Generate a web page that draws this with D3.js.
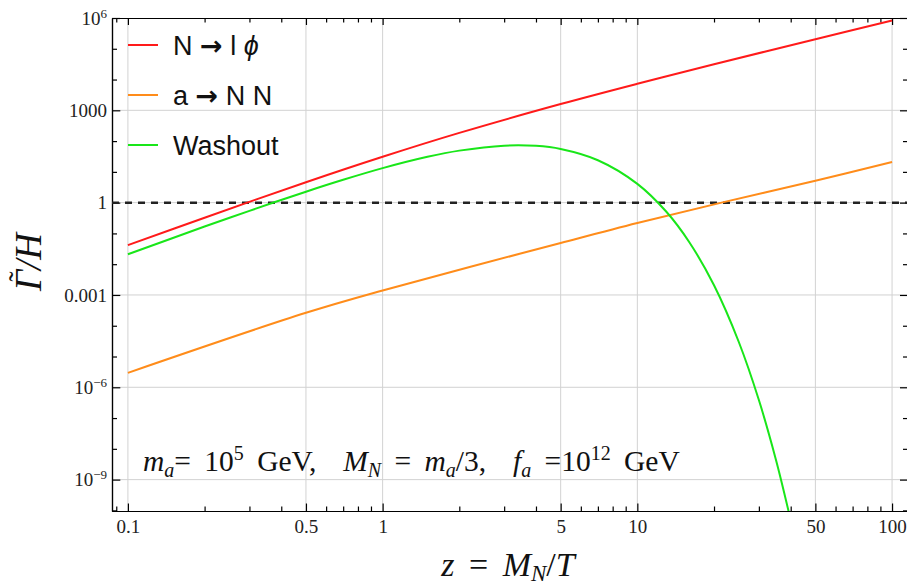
<!DOCTYPE html>
<html lang="en">
<head>
<meta charset="UTF-8">
<title>Rates over Hubble</title>
<script src="https://d3js.org/d3.v7.min.js"></script>
<style>
    body { margin: 0; background: #fff; }
    .axis path, .axis line { stroke: #000; stroke-width: 1.2; }
    .axis text { font-family: "Liberation Serif", "Times New Roman", serif; font-size: 19px; fill: #222; }
    .grid line { stroke: #d2d2d2; stroke-width: 1; }
    .curve { fill: none; stroke-width: 2; }
    .legend text { font-family: "Liberation Sans", Arial, sans-serif; font-size: 27px; fill: #111; }
    .serif { font-family: "Liberation Serif", "Times New Roman", serif; fill: #111; }
</style>
</head>
<body>
<div id="chart"></div>
<script>
// values (z = M_N/T, rate = Gamma/H)
const zDecay = [0.1, 0.2, 0.5, 1, 2, 5, 10, 20, 50, 100];
const decayRate = [0.0415, 0.324, 4.61, 31, 185, 1600, 7300, 31300, 2.04e5, 8.28e5];

const zAxion = [0.1, 0.5, 1, 5, 10, 21.4, 50, 100];
const axionRate = [2.95e-6, 2.63e-4, 1.4e-3, 0.049, 0.219, 1.0, 5.13, 20.9];

const zWash = [0.1, 0.2, 0.3, 0.5, 0.7, 1, 1.5, 2, 3, 4, 5, 7, 10, 13, 16, 20, 25, 30, 35, 40];
const washRate = [0.021, 0.167, 0.542, 2.27, 5.52, 13.2, 30.8, 49.0, 71.2, 70.0, 55.4, 23.9, 4.08, 0.505, 0.0518, 2.06e-3, 3.02e-5, 3.85e-7, 4.44e-9, 4.76e-11];

const seriesNames = [["N ", "→", " l ", "ϕ"], ["a ", "→", " N N"], ["Washout"]];
const seriesColors = ["#ff1a1a", "#ff8c1a", "#19e619"];

const xTicks = [0.1, 0.5, 1, 5, 10, 50, 100];
const xTickLabels = ["0.1", "0.5", "1", "5", "10", "50", "100"];
const yTicks = [1e-9, 1e-6, 1e-3, 1, 1e3, 1e6];
const yTickLabels = [["10", "−9"], ["10", "−6"], ["0.001", ""], ["1", ""], ["1000", ""], ["10", "6"]];
const refLevel = 1;

const width = 907, height = 587;
const frame = { left: 112, right: 908, top: 18, bottom: 511 };

const x = d3.scaleLog().domain([0.0866, 115.5]).range([frame.left, frame.right]);
const y = d3.scaleLog().domain([Math.pow(10, -10.02), 1e6]).range([frame.bottom, frame.top]);

const svg = d3.select("#chart").append("svg")
    .attr("width", width)
    .attr("height", height);

svg.append("defs").append("clipPath").attr("id", "plot")
    .append("rect")
    .attr("x", frame.left).attr("y", frame.top)
    .attr("width", frame.right - frame.left).attr("height", frame.bottom - frame.top);

// grid
const grid = svg.append("g").attr("class", "grid");
grid.selectAll(".gx").data(xTicks).enter().append("line")
    .attr("x1", d => x(d)).attr("x2", d => x(d))
    .attr("y1", frame.top).attr("y2", frame.bottom);
grid.selectAll(".gy").data(yTicks.slice(0, -1)).enter().append("line")
    .attr("x1", frame.left).attr("x2", frame.right)
    .attr("y1", d => y(d)).attr("y2", d => y(d));

// minor tick values
const xMinor = x.ticks().filter(v => !xTicks.some(t => Math.abs(t - v) / t < 1e-6));
const yMinor = d3.range(-10, 7).map(e => Math.pow(10, e)).filter(v => !yTicks.includes(v) && v >= y.domain()[0]);

function addAxis(axisFn, scale, pos, major, minor, majorLen, minorLen, labels) {
    const g = svg.append("g").attr("class", "axis").attr("transform", pos);
    g.call(axisFn(scale).tickValues(minor).tickSize(-minorLen).tickSizeOuter(0).tickFormat(""));
    const g2 = svg.append("g").attr("class", "axis").attr("transform", pos);
    g2.call(axisFn(scale).tickValues(major).tickSize(-majorLen).tickSizeOuter(0)
        .tickPadding(labels ? (axisFn === d3.axisBottom ? 9 : 5) : 0)
        .tickFormat(labels ? (d, i) => labels[i] : ""));
    return g2;
}

addAxis(d3.axisBottom, x, `translate(0,${frame.bottom})`, xTicks, xMinor, 7.5, 4.5, xTickLabels);
addAxis(d3.axisTop, x, `translate(0,${frame.top})`, xTicks, xMinor, 7, 4.5, null);
const yl = addAxis(d3.axisLeft, y, `translate(${frame.left},0)`, yTicks, yMinor, 8.3, 5, yTickLabels.map(d => d[0]));
addAxis(d3.axisRight, y, `translate(${frame.right},0)`, yTicks, yMinor, 8, 5, null);

// superscripts on the y labels
yl.selectAll(".tick text").each(function(d, i) {
    const lab = yTickLabels[i];
    const t = d3.select(this).text(null);
    t.append("tspan").text(lab[0]);
    if (lab[1]) {
        t.append("tspan").attr("dy", -7).style("font-size", "13px").text(lab[1]);
    }
});

// reference line
svg.append("line")
    .attr("x1", frame.left).attr("x2", frame.right)
    .attr("y1", y(refLevel)).attr("y2", y(refLevel))
    .attr("stroke", "#222").attr("stroke-width", 2.5)
    .attr("stroke-dasharray", "7,6");

// curves
const line = d3.line()
    .x(d => x(d[0]))
    .y(d => y(d[1]))
    .curve(d3.curveCatmullRom.alpha(0.5));

const series = [
    d3.zip(zDecay, decayRate),
    d3.zip(zAxion, axionRate),
    d3.zip(zWash, washRate)
];

svg.append("g").attr("clip-path", "url(#plot)")
    .selectAll("path").data(series).enter().append("path")
    .attr("class", "curve")
    .attr("stroke", (d, i) => seriesColors[i])
    .attr("d", line);

// legend
const legend = svg.append("g").attr("class", "legend");
seriesNames.forEach((parts, i) => {
    const ly = 45 + i * 50;
    legend.append("line")
        .attr("x1", 128).attr("x2", 158)
        .attr("y1", ly).attr("y2", ly)
        .attr("stroke", seriesColors[i]).attr("stroke-width", 2);
    const t = legend.append("text").attr("x", 173).attr("y", ly + 9.5)
        .style("white-space", "pre");
    parts.forEach(part => {
        const ts = t.append("tspan").text(part);
        if (part === "ϕ") ts.style("font-style", "italic");
        if (part === "→") ts.style("font-family", "'DejaVu Sans', sans-serif").style("font-weight", "bold");
    });
});

// rich text helper: parts are [text, kind] with kind i / sub / sup / ""
function richText(t, parts, small, subDy) {
    let shift = 0;
    parts.forEach(([s, kind]) => {
        const target = kind === "sub" ? subDy : kind === "sup" ? -11 : 0;
        const ts = t.append("tspan").attr("dy", target - shift).text(s);
        shift = target;
        if (kind === "i" || kind === "sub") ts.style("font-style", "italic");
        if (kind === "sub" || kind === "sup") ts.style("font-size", small + "px");
    });
}

// annotation
const note = svg.append("text").attr("class", "serif")
    .attr("x", 143).attr("y", 471)
    .style("white-space", "pre")
    .style("word-spacing", "6px")
    .style("font-size", "29.5px");
richText(note, [["m", "i"], ["a", "sub"], ["= 10", ""], ["5", "sup"], [" GeV,  ", ""],
    ["M", "i"], ["N", "sub"], [" = ", ""], ["m", "i"], ["a", "sub"], ["/3,  ", ""],
    ["f", "i"], ["a", "sub"], [" =10", ""], ["12", "sup"], [" GeV", ""]], 20, 6);

// x label
const xlab = svg.append("text").attr("class", "serif")
    .attr("x", 508).attr("y", 576)
    .attr("text-anchor", "middle")
    .style("white-space", "pre")
    .style("word-spacing", "6px")
    .style("font-size", "34px");
richText(xlab, [["z", "i"], [" = ", ""], ["M", "i"], ["N", "sub"], ["/", ""], ["T", "i"]], 23, 5);

// y label with tilde over Gamma
const yg = svg.append("g").attr("transform", "translate(41,262) rotate(-90)");
const ylt = yg.append("text").attr("class", "serif")
    .attr("text-anchor", "middle")
    .style("font-style", "italic")
    .style("font-size", "37px");
ylt.append("tspan").text("Γ");
ylt.append("tspan").text("/H");
const full = ylt.node().getComputedTextLength();
const gw = ylt.node().getSubStringLength(0, 1);
yg.append("text").attr("class", "serif")
    .attr("x", -full / 2 + gw / 2 + 4)
    .attr("y", -12)
    .attr("text-anchor", "middle")
    .style("font-size", "30px")
    .text("˜");
</script>
</body>
</html>
